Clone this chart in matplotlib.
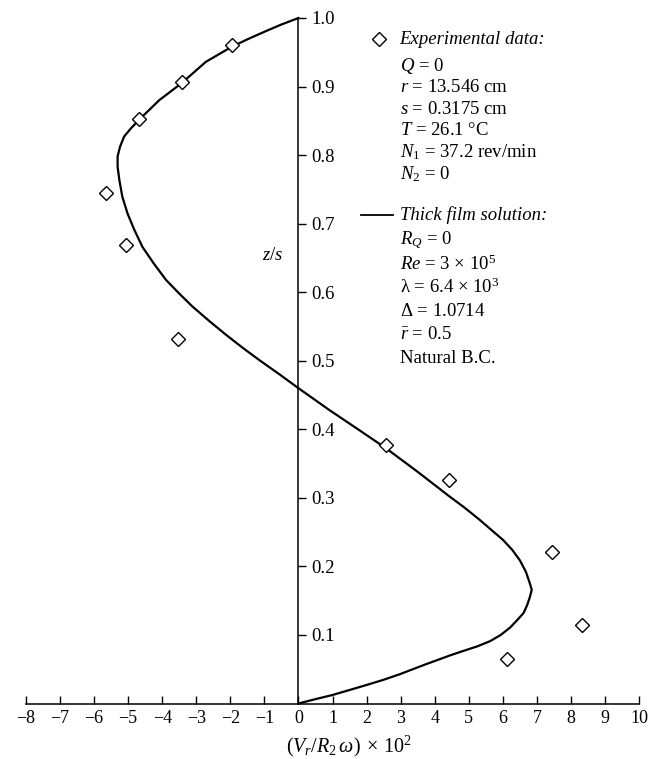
import matplotlib
matplotlib.use("Agg")
import matplotlib.pyplot as plt

plt.rcParams["font.family"] = ["Liberation Serif", "DejaVu Serif"]
plt.rcParams["mathtext.fontset"] = "custom"
plt.rcParams["mathtext.rm"] = "Liberation Serif"
plt.rcParams["mathtext.it"] = "Liberation Serif:italic"
plt.rcParams["mathtext.bf"] = "Liberation Serif:bold"
plt.rcParams["axes.unicode_minus"] = True

# Thick film solution: radial velocity profile across the gap
sol_v = [0.00, -0.50, -0.95, -1.45, -1.96, -2.72, -3.43, -4.09, -4.67, -4.92,
         -5.12, -5.24, -5.31, -5.31, -5.26, -5.17, -5.02, -4.82, -4.58, -4.25,
         -3.89, -3.50, -3.11, -2.62, -2.13, -1.64, -1.15, -0.58, 0.00, 0.91,
         1.75, 2.58, 3.50, 4.41, 4.87, 5.32, 5.67, 6.01, 6.28, 6.50,
         6.68, 6.79, 6.85, 6.80, 6.72, 6.61, 6.43, 6.22, 5.94, 5.63,
         5.26, 4.86, 4.47, 3.70, 2.97, 2.48, 2.00, 1.50, 1.00, 0.52, 0.00]
sol_z = [1.000, 0.9905, 0.981, 0.970, 0.958, 0.936, 0.905, 0.880, 0.852, 0.839,
         0.827, 0.812, 0.798, 0.783, 0.764, 0.739, 0.715, 0.691, 0.666, 0.642,
         0.618, 0.598, 0.579, 0.558, 0.538, 0.519, 0.501, 0.481, 0.460, 0.428,
         0.400, 0.372, 0.338, 0.303, 0.286, 0.268, 0.253, 0.2385, 0.224, 0.209,
         0.192, 0.176, 0.166, 0.156, 0.144, 0.132, 0.122, 0.111, 0.100, 0.091,
         0.0835, 0.077, 0.0705, 0.0565, 0.0426, 0.0343, 0.027, 0.0197, 0.0124, 0.0066, 0.000]

# Experimental data
exp_v = [-1.96, -3.43, -4.67, -5.65, -5.06, -3.55, 2.58, 4.41, 7.45, 8.34, 6.11]
exp_z = [0.960, 0.907, 0.852, 0.745, 0.669, 0.531, 0.377, 0.326, 0.221, 0.1145, 0.0645]

x_ticks = list(range(-8, 11))
y_ticks = [0.1, 0.2, 0.3, 0.4, 0.5, 0.6, 0.7, 0.8, 0.9, 1.0]
y_tick_labels = ["0.1", "0.2", "0.3", "0.4", "0.5", "0.6", "0.7", "0.8", "0.9", "1.0"]

exp_lines = [
    r"$Q$ = 0",
    r"$r$ = 13.546 cm",
    r"$s$ = 0.3175 cm",
    r"$T$ = 26.1 °C",
    r"$N_1$ = 37.2 rev/min",
    r"$N_2$ = 0",
]
sol_lines = [
    r"$R_Q$ = 0",
    r"$Re$ = 3 $\times$ 10$^5$",
    r"λ = 6.4 $\times$ 10$^3$",
    r"$\mathit{\Delta}$ = 1.0714",
    r"$\bar{r}$ = 0.5",
    "Natural B.C.",
]

W, H = 651, 759
fig = plt.figure(figsize=(W / 100, H / 100), dpi=100)
x0, x1 = 26, 639
y_top, y_bot = 18, 703.5
ax = fig.add_axes([x0 / W, 1 - y_bot / H, (x1 - x0) / W, (y_bot - y_top) / H])
ax.set_xlim(-8, 10)
ax.set_ylim(0, 1)
ax.patch.set_visible(False)

# axes: horizontal line at z = 0, vertical line at V = 0
for s in ("top", "left"):
    ax.spines[s].set_visible(False)
ax.spines["bottom"].set_position(("data", 0))
ax.spines["right"].set_position(("data", 0))
ax.spines["bottom"].set_linewidth(1.1)
ax.spines["right"].set_linewidth(1.1)

ax.set_xticks(x_ticks)
ax.set_xticklabels([str(t).replace("-", "\u2212") for t in x_ticks])
ax.tick_params(axis="x", direction="in", length=6, width=1.0, pad=5, labelsize=13)
ax.yaxis.tick_right()
ax.set_yticks(y_ticks)
ax.set_yticklabels(y_tick_labels)
ax.tick_params(axis="y", direction="out", length=5.5, width=1.0, pad=4, labelsize=13.5)

ax.plot(sol_v, sol_z, color="black", lw=1.6, clip_on=False, zorder=3,
        solid_joinstyle="round")
ax.plot(exp_v, exp_z, linestyle="none", marker="D", markersize=7,
        markerfacecolor="white", markeredgecolor="black", markeredgewidth=1.0,
        clip_on=False, zorder=4)

# axis labels
ax.text(-0.76, 0.654, r"$z/s$", fontsize=13.5, ha="center", va="center")
fig.text(349 / W, 1 - 746 / H, r"$(V_r/R_2\,\omega)\;\times\,10^2$",
         fontsize=14.5, ha="center", va="center")

fs = 13.5
dz = 1.0 / (y_bot - y_top)

# key: experimental data
z_exp = 0.969
ax.plot([2.38], [z_exp], linestyle="none", marker="D", markersize=7,
        markerfacecolor="white", markeredgecolor="black", markeredgewidth=1.0,
        clip_on=False)
ax.text(2.97, z_exp, "Experimental data:", fontstyle="italic", fontsize=fs,
        ha="left", va="center")
z = z_exp - 26.5 * dz
for line in exp_lines:
    ax.text(2.97, z, line, fontsize=fs, ha="left", va="center")
    z -= 21.7 * dz

# key: thick film solution
z_sol = (y_bot - 215) * dz
ax.plot([1.84, 2.78], [z_sol, z_sol], color="black", lw=1.3, clip_on=False)
ax.text(2.97, z_sol, "Thick film solution:", fontstyle="italic", fontsize=fs,
        ha="left", va="center")
z = z_sol - 25.7 * dz
for line in sol_lines:
    ax.text(2.97, z, line, fontsize=fs, ha="left", va="center")
    z -= 23.5 * dz

fig.savefig("out.png", dpi=100)
